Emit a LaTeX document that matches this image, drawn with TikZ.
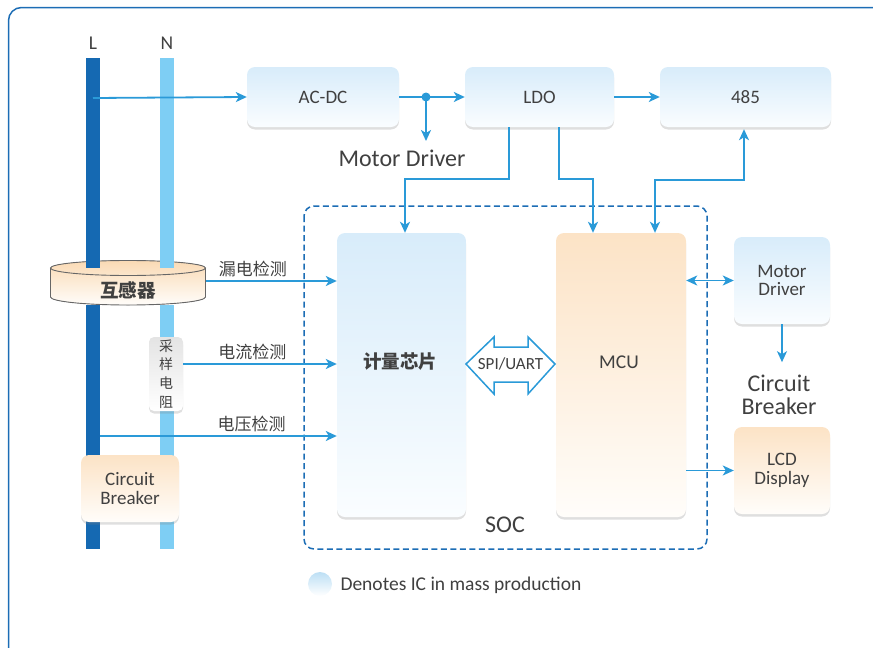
\documentclass[tikz,border=0pt]{standalone}
\usepackage{fontspec}
\setmainfont{Carlito}
\newfontfamily\cjk{Noto Sans CJK SC}
\usetikzlibrary{arrows.meta,shadows}
\definecolor{arrblue}{HTML}{2A9AD8}
\definecolor{frameblue}{HTML}{1C6DB5}
\definecolor{lblue}{HTML}{1569B2}
\definecolor{nblue}{HTML}{7ECEF4}
\definecolor{txt}{HTML}{404040}
\definecolor{bluetop}{HTML}{D8ECFA}
\definecolor{bluebot}{HTML}{FAFDFF}
\definecolor{orgtop}{HTML}{FCE3C6}
\definecolor{orgbot}{HTML}{FFFDFA}
\definecolor{graytop}{HTML}{E4E4E4}
\definecolor{trtop}{HTML}{FADAB4}
\tikzset{
  box/.style={rounded corners=8pt, top color=bluetop, bottom color=bluebot, text=txt,
    drop shadow={shadow xshift=0pt, shadow yshift=-2.5pt, opacity=0.25},
    font=\fontsize{19}{18.5}\selectfont, align=center},
  obox/.style={box, top color=orgtop, bottom color=orgbot},
  arr/.style={draw=arrblue, line width=1.8pt, -{Stealth[length=11pt,width=10pt,inset=3pt]}},
  arr2/.style={arr, {Stealth[length=11pt,width=10pt,inset=3pt]}-{Stealth[length=11pt,width=10pt,inset=3pt]}},
  lab/.style={text=txt, font=\fontsize{19.5}{22}\selectfont, align=center},
  biglab/.style={lab, font=\fontsize{24}{23}\selectfont},
  cn/.style={text=txt, font=\cjk\fontsize{17}{19}\selectfont},
  cnb/.style={text=txt, font=\cjk\bfseries\fontsize{18.5}{20}\selectfont},
}
\begin{document}
\begin{tikzpicture}[x=1pt,y=-1pt]
\useasboundingbox (0,0) rectangle (873,648);
\draw[frameblue, line width=1.5pt, rounded corners=13pt] (8.5,7.5) rectangle (910,670);

\fill[lblue] (86,305) rectangle (100,549);
\fill[nblue] (160,305) rectangle (174,549);
\fill[top color=trtop, bottom color=orgbot] (50.5,268) -- (50.5,297)
  arc[start angle=180, end angle=360, x radius=77.5pt, y radius=8pt] -- (205.5,268)
  arc[start angle=0, end angle=180, x radius=77.5pt, y radius=7.5pt] -- cycle;
\draw[black!60, line width=0.9pt] (50.5,268) -- (50.5,297)
  arc[start angle=180, end angle=360, x radius=77.5pt, y radius=8pt] -- (205.5,268);
\draw[black!60, line width=0.9pt] (128,268) ellipse [x radius=77.5pt, y radius=7.5pt];
\fill[lblue] (86,58) rectangle (100,268);
\fill[nblue] (160,58) rectangle (174,268);
\node[cnb] (trans) at (128,290) {互感器};
\coordinate (tr) at (205.5,281);

\node[lab] (L) at (93,43) {L};
\node[lab] (N) at (167,43) {N};

\node[box, minimum width=152pt, minimum height=60pt] (acdc) at (323,97) {AC-DC};
\node[box, minimum width=149pt, minimum height=60pt] (ldo) at (539.5,97) {LDO};
\node[box, minimum width=171pt, minimum height=60pt] (rs485) at (745.5,97) {485};
\coordinate (j) at (426,97);
\coordinate (md) at (426,141);
\node[biglab] (mdtxt) at (402,158) {Motor Driver};

\draw[frameblue, line width=1.5pt, dash pattern=on 6pt off 3.5pt, rounded corners=10pt] (304,206) rectangle (707,549);
\node[biglab] (soc) at (505,525) {SOC};

\node[box, minimum width=129pt, minimum height=284pt] (chip) at (401.5,375) {};
\node[cnb] (chiptxt) at (400,362) {计量芯片};
\node[obox, minimum width=130pt, minimum height=284pt] (mcu) at (621,375) {};
\node[lab] (mcutxt) at (619,362) {MCU};

\coordinate (spic) at (510.5,364);
\draw[arrblue, line width=1.5pt, fill=white, line join=miter]
  ([xshift=-44.5pt]spic) -- ++(28,-27) -- ++(0,10) -- ++(34,0) -- ++(0,-10)
  -- ++(27,27) -- ++(-27,30) -- ++(0,-12) -- ++(-34,0) -- ++(0,12) -- cycle;
\node[text=txt, font=\fontsize{17}{19}\selectfont] (spi) at (spic) {SPI/UART};

\node[box, minimum width=96pt, minimum height=87pt] (mdrv) at (782,280.5) {Motor\\Driver};
\node[biglab] (cbtxt) at (779,395) {Circuit\\Breaker};
\node[obox, minimum width=96pt, minimum height=87pt] (lcd) at (782,470.5) {LCD\\Display};

\node[obox, minimum width=98pt, minimum height=67pt] (cb) at (130,488.5) {Circuit\\Breaker};
\node[box, top color=graytop, bottom color=white, minimum width=34pt, minimum height=74pt,
  rounded corners=5pt, font=\cjk\fontsize{14}{18.7}\selectfont, inner sep=0pt] (rs) at (166,374) {采\\样\\电\\阻};

\coordinate (l1) at (93,98);
\coordinate (l2) at (100,436);
\draw[arr] (l1) -- (acdc.west);
\draw[arr] (acdc.east) -- (ldo.west);
\fill[arrblue] (j) circle (4.5pt);
\draw[arr] (j) -- (md);
\draw[arr] (ldo.east) -- (rs485.west);
\draw[arr] ([xshift=-30.5pt]ldo.south) -- ++(0,52) -| ([xshift=3.5pt]chip.north);
\draw[arr] ([xshift=19.5pt]ldo.south) -- ++(0,52) -| ([xshift=-28pt]mcu.north);
\draw[arr2] ([xshift=34pt]mcu.north) -- ++(0,-53) -| ([xshift=-1.5pt,yshift=-2pt]rs485.south);
\draw[arr2] (mcu.east |- mdrv.west) -- (mdrv.west);
\draw[arr] (mdrv.south) -- ++(0,38);
\draw[arr] (mcu.east |- lcd.west) -- (lcd.west);

\draw[arr] (tr) -- (chip.west |- tr) node[cn, pos=0.36, above] {漏电检测};
\draw[arr] (rs.east |- 0,364) -- (chip.west |- 0,364) node[cn, pos=0.45, above] {电流检测};
\draw[arr] (l2) -- (chip.west |- l2) node[cn, pos=0.64, above] {电压检测};

\shade[top color=bluetop!80!arrblue!90, bottom color=white] (320,584) circle (12pt);
\node[lab, anchor=west] (legend) at (337,585) {Denotes IC in mass production};
\end{tikzpicture}
\end{document}
